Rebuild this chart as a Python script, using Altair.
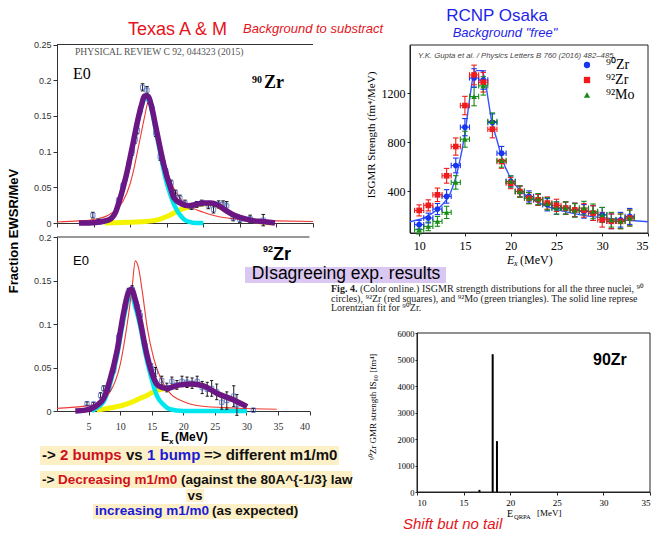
import altair as alt
import pandas as pd

W, H = 655, 533

# ---------------- Texas A&M, 90Zr ----------------
zr90_fit_x = [3.0, 5.0, 7.0, 8.0, 8.5, 9.0, 9.5, 10.0, 10.5, 11.0, 11.5, 12.0, 12.5, 13.0, 13.5, 14.0, 14.5, 15.0, 15.5, 16.0, 17.0, 18.0, 19.0, 20.0, 21.0, 22.0, 23.0, 24.0, 25.0, 26.0, 27.0, 28.0, 29.0, 29.8]
zr90_fit_y = [0.0, 0.0005, 0.004, 0.015, 0.03, 0.048, 0.068, 0.092, 0.117, 0.142, 0.163, 0.178, 0.177, 0.16, 0.135, 0.11, 0.086, 0.066, 0.05, 0.035, 0.027, 0.024, 0.026, 0.028, 0.028, 0.025, 0.018, 0.012, 0.008, 0.005, 0.003, 0.002, 0.001, 0.0]
zr90_c1_x = [4.0, 6.0, 7.0, 8.0, 8.5, 9.0, 9.5, 10.0, 10.5, 11.0, 11.5, 12.0, 12.5, 13.0, 13.5, 14.0, 14.5, 15.0, 15.5, 16.0, 16.5, 17.0, 17.5, 18.0, 19.0, 20.0]
zr90_c1_y = [0.0, 0.001, 0.004, 0.015, 0.03, 0.048, 0.068, 0.091, 0.116, 0.141, 0.161, 0.175, 0.173, 0.156, 0.13, 0.104, 0.078, 0.056, 0.04, 0.026, 0.016, 0.009, 0.004, 0.002, 0.0, 0.0]
zr90_c2_x = [6.5, 8.0, 10.0, 12.0, 13.0, 14.0, 15.0, 16.0, 17.0, 18.0, 19.0, 20.0, 21.0, 22.0, 23.0, 24.0, 25.0, 26.0, 27.0, 28.0, 29.5]
zr90_c2_y = [0.0, 0.0005, 0.001, 0.002, 0.003, 0.005, 0.009, 0.014, 0.019, 0.022, 0.025, 0.027, 0.027, 0.024, 0.018, 0.012, 0.008, 0.005, 0.003, 0.0015, 0.0]
zr90_red_x = [0, 3, 5, 7, 8, 9, 10, 10.5, 11, 11.5, 12, 12.5, 13, 13.5, 14, 14.5, 15, 16, 17, 18, 20, 22, 24, 27, 30, 35]
zr90_red_y = [0.0015, 0.003, 0.005, 0.011, 0.018, 0.03, 0.055, 0.075, 0.1, 0.125, 0.15, 0.17, 0.166, 0.142, 0.117, 0.095, 0.075, 0.048, 0.032, 0.024, 0.015, 0.009, 0.006, 0.004, 0.003, 0.002]
zr90_pt_x = [4.9, 5.7, 8.4, 9.0, 9.8, 10.3, 10.7, 11.0, 11.4, 11.7, 12.3, 12.6, 13.0, 13.5, 14.1, 14.5, 14.9, 15.6, 16.2, 16.8, 17.5, 18.4, 19.1, 19.8, 20.7, 21.4, 22.1, 22.7, 23.2, 24.1, 25.0, 26.4, 28.2]
zr90_pt_y = [0.011, 0.003, 0.031, 0.052, 0.082, 0.1, 0.117, 0.13, 0.158, 0.19, 0.186, 0.172, 0.161, 0.126, 0.093, 0.085, 0.072, 0.056, 0.042, 0.035, 0.028, 0.023, 0.026, 0.028, 0.025, 0.019, 0.026, 0.026, 0.024, 0.007, 0.005, 0.006, 0.004]
zr90_pt_e = [0.004, 0.002, 0.004, 0.004, 0.005, 0.005, 0.005, 0.005, 0.005, 0.005, 0.005, 0.005, 0.005, 0.005, 0.005, 0.004, 0.004, 0.004, 0.004, 0.004, 0.004, 0.004, 0.004, 0.004, 0.005, 0.005, 0.005, 0.005, 0.006, 0.004, 0.004, 0.005, 0.008]

# ---------------- Texas A&M, 92Zr ----------------
zr92_fit_x = [2.9, 4.5, 5.8, 6.6, 7.4, 8.4, 9.5, 10.5, 11.3, 11.8, 12.4, 13.2, 14.0, 14.8, 15.8, 16.6, 17.4, 18.5, 19.5, 21.4, 23.2, 25.3, 28.0, 30.1]
zr92_fit_y = [0.0, 0.001, 0.004, 0.008, 0.0147, 0.036, 0.0686, 0.111, 0.136, 0.14, 0.128, 0.103, 0.0725, 0.049, 0.031, 0.027, 0.026, 0.028, 0.03, 0.031, 0.029, 0.0205, 0.0127, 0.005]
zr92_c1_x = [5.5, 6.6, 7.4, 8.4, 9.5, 10.5, 11.3, 11.8, 12.4, 13.2, 14.0, 14.8, 15.8, 16.9, 17.9, 20.0, 25.0, 30.1]
zr92_c1_y = [0.0, 0.005, 0.011, 0.031, 0.063, 0.104, 0.129, 0.133, 0.12, 0.097, 0.066, 0.042, 0.018, 0.007, 0.002, 0.0, 0.0, 0.0]
zr92_c2_x = [6.3, 8.0, 9.5, 11.0, 12.1, 13.0, 14.3, 15.3, 16.4, 17.4, 18.5, 19.5, 21.4, 23.2, 25.3, 28.0, 30.1]
zr92_c2_y = [0.001, 0.003, 0.005, 0.008, 0.011, 0.014, 0.018, 0.022, 0.025, 0.026, 0.028, 0.03, 0.031, 0.029, 0.0205, 0.0127, 0.005]
zr92_red_x = [0.0, 5.8, 8.4, 10.0, 11.1, 11.9, 12.4, 12.9, 13.5, 14.3, 15.3, 16.4, 17.9, 20.0, 22.7, 28.0, 34.8]
zr92_red_y = [0.003, 0.007, 0.022, 0.053, 0.099, 0.142, 0.1726, 0.165, 0.138, 0.0956, 0.061, 0.038, 0.0205, 0.011, 0.0058, 0.0035, 0.002]
zr92_pt_x = [4.75, 5.8, 6.9, 7.4, 8.2, 9.0, 9.75, 10.3, 10.8, 11.3, 11.9, 12.7, 13.2, 14.0, 15.0, 15.6, 16.6, 17.4, 18.2, 19.0, 19.8, 20.6, 21.4, 22.2, 23.0, 23.8, 24.5, 25.3, 26.1, 26.9, 28.0, 28.5, 31.1]
zr92_pt_y = [0.0085, 0.008, 0.018, 0.026, 0.026, 0.048, 0.085, 0.1, 0.12, 0.137, 0.14, 0.12, 0.11, 0.075, 0.049, 0.045, 0.035, 0.027, 0.034, 0.03, 0.034, 0.033, 0.032, 0.034, 0.027, 0.025, 0.026, 0.022, 0.01, 0.012, 0.017, 0.007, 0.001]
zr92_pt_e = [0.002, 0.002, 0.003, 0.003, 0.003, 0.004, 0.004, 0.004, 0.004, 0.004, 0.004, 0.005, 0.005, 0.005, 0.005, 0.005, 0.005, 0.005, 0.005, 0.005, 0.006, 0.006, 0.006, 0.006, 0.007, 0.008, 0.009, 0.009, 0.008, 0.01, 0.012, 0.012, 0.002]

# ---------------- RCNP Osaka ----------------
rc_series = ["⁹⁰Zr", "⁹²Zr", "⁹²Mo"]
rc_errkeys = ["e90", "e92", "emo"]
rc_x = [10, 11, 12, 13, 14, 15, 16, 17, 18, 19, 20, 21, 22, 23, 24, 25, 26, 27, 28, 29, 30, 31, 32, 33]
rc_zr90 = [130, 184, 257, 360, 612, 924, 1325, 1308, 962, 712, 482, 400, 360, 333, 292, 265, 265, 250, 238, 224, 210, 157, 170, 197]
rc_zr92 = [246, 287, 373, 528, 766, 1100, 1349, 1290, 907, 644, 468, 400, 346, 333, 306, 287, 265, 250, 246, 224, 170, 157, 157, 184]
rc_mo92 = [89, 116, 157, 230, 474, 826, 1173, 1260, 970, 653, 482, 400, 346, 338, 300, 265, 265, 246, 265, 238, 210, 170, 157, 184]
rc_err90 = [35, 40, 45, 55, 60, 70, 75, 75, 70, 55, 45, 45, 45, 45, 50, 50, 50, 55, 55, 60, 60, 60, 60, 65]
rc_err92 = [45, 45, 55, 60, 70, 75, 80, 80, 70, 55, 45, 45, 45, 45, 50, 50, 50, 55, 55, 60, 60, 60, 60, 65]
rc_errmo = [35, 35, 40, 50, 55, 65, 75, 75, 70, 55, 45, 45, 45, 45, 50, 50, 50, 55, 55, 60, 60, 60, 60, 65]
lor_x = [9.0, 10.8, 12.3, 13.4, 14.3, 15.0, 15.55, 15.9, 16.3, 16.8, 17.1, 17.55, 17.9, 18.5, 19.0, 20.1, 21.2, 23.2, 26.8, 30.5, 35.0]
lor_y = [154, 195, 276, 385, 602, 874, 1172, 1337, 1384, 1384, 1337, 1145, 983, 819, 683, 494, 398, 304, 222, 182, 154]

# ---------------- QRPA ----------------
qrpa_e = [16.7, 18.12, 18.58]
qrpa_s = [80, 5200, 1920]

# ---------------- styles ----------------
PURPLE, CYAN, YELLOW, THINRED = "#6b1685", "#00e6ef", "#f4f400", "#ee3b33"
SQ = "#3a5ccc"
TRED, TBLUE = "#e5141b", "#1f1fe8"
SANS, SERIF = "Liberation Sans", "Liberation Serif"

one = pd.DataFrame({"k": [0]})


def txt(s, x, y, size=12, color="black", font=SANS, weight="normal", style="normal",
        align="left", angle=0, baseline="alphabetic"):
    return alt.Chart(one).mark_text(text=s, fontSize=size, color=color, font=font, fontWeight=weight,
                                    fontStyle=style, align=align, angle=angle, baseline=baseline
                                    ).encode(x=alt.value(x), y=alt.value(y))


def box(x1, y1, x2, y2, color):
    return alt.Chart(one).mark_rect(color=color).encode(
        x=alt.value(x1), x2=alt.value(x2), y=alt.value(y1), y2=alt.value(y2))


def XE(f, sc, ax):
    return alt.X(f, type="quantitative", scale=sc, axis=ax, title=None)


def YE(f, sc, ax):
    return alt.Y(f, type="quantitative", scale=sc, axis=ax, title=None)


def left_panel(fx, fy, c1x, c1y, c2x, c2y, rx, ry, px, py, pe, xs, ys, axx, axy, xmax, ymax):
    lines = []
    for xs_, ys_, col, sw in [(c2x, c2y, YELLOW, 5), (c1x, c1y, CYAN, 4.5), (rx, ry, THINRED, 1.1), (fx, fy, PURPLE, 5.5)]:
        lines.append(alt.Chart(pd.DataFrame({"x": xs_, "y": ys_})).mark_line(
            color=col, strokeWidth=sw, interpolate="monotone").encode(
            x=XE("x", xs, axx), y=YE("y", ys, axy)))
    err = pd.DataFrame({"x": px, "lo": [a - b for a, b in zip(py, pe)], "hi": [a + b for a, b in zip(py, pe)]})
    caps = pd.DataFrame({"x1": [a - 0.25 for a in px] * 2, "x2": [a + 0.25 for a in px] * 2,
                         "y": list(err["lo"]) + list(err["hi"])})
    ebar = alt.Chart(err).mark_rule(color="black", strokeWidth=0.9).encode(
        x=XE("x", xs, axx), y=YE("lo", ys, axy), y2="hi")
    ecap = alt.Chart(caps).mark_rule(color="black", strokeWidth=0.9).encode(
        x=XE("x1", xs, axx), x2="x2", y=YE("y", ys, axy))
    pts = alt.Chart(pd.DataFrame({"x": px, "y": py})).mark_point(
        shape="square", filled=False, size=18, strokeWidth=1, color=SQ).encode(
        x=XE("x", xs, axx), y=YE("y", ys, axy))
    top = alt.Chart(pd.DataFrame({"x1": [0], "x2": [xmax], "y": [ymax]})).mark_rule(
        color="#333", strokeWidth=1).encode(x=XE("x1", xs, axx), x2="x2", y=YE("y", ys, axy))
    return alt.layer(top, *lines[:3], ebar, ecap, pts, lines[3])


# ---- panel A: 90Zr (Texas) ----
xA = alt.Scale(domain=[0, 35], range=[57, 313], nice=False, zero=False)
yA = alt.Scale(domain=[0, 0.25], range=[223, 44.5], nice=False)
axA_x = alt.Axis(orient="bottom", offset=223 - H, values=[0, 5, 10, 15, 20, 25, 30, 35], labels=False,
                 tickSize=4, grid=False, domainColor="#333", tickColor="#333")
axA_y = alt.Axis(orient="left", offset=-57, values=[0, 0.05, 0.1, 0.15, 0.2, 0.25], format="~g", grid=False,
                 tickSize=4, labelPadding=2, labelFont=SANS, labelFontSize=9, labelColor="#333",
                 domainColor="#333", tickColor="#333")
panelA = left_panel(zr90_fit_x, zr90_fit_y, zr90_c1_x, zr90_c1_y, zr90_c2_x, zr90_c2_y, zr90_red_x, zr90_red_y,
                    zr90_pt_x, zr90_pt_y, zr90_pt_e, xA, yA, axA_x, axA_y, 35, 0.25)

# ---- panel B: 92Zr (Texas) ----
xB = alt.Scale(domain=[0, 40], range=[57, 309.5], nice=False, zero=False)
yB = alt.Scale(domain=[0, 0.2], range=[411, 237], nice=False)
axB_x = alt.Axis(orient="bottom", offset=411 - H, values=[5, 10, 15, 20, 25, 30, 35, 40], grid=False,
                 tickSize=4, labelPadding=6, labelFont=SERIF, labelFontSize=10, labelColor="#333",
                 domainColor="#333", tickColor="#333")
axB_y = alt.Axis(orient="left", offset=-57, values=[0, 0.05, 0.1, 0.15, 0.2], format="~g", grid=False,
                 tickSize=4, labelPadding=2, labelFont=SANS, labelFontSize=9, labelColor="#333",
                 domainColor="#333", tickColor="#333")
panelB = left_panel(zr92_fit_x, zr92_fit_y, zr92_c1_x, zr92_c1_y, zr92_c2_x, zr92_c2_y, zr92_red_x, zr92_red_y,
                    zr92_pt_x, zr92_pt_y, zr92_pt_e, xB, yB, axB_x, axB_y, 40, 0.2)

# ---- panel C: RCNP ----
xC = alt.Scale(domain=[9, 35], range=[410, 648], nice=False, zero=False)
yC = alt.Scale(domain=[62, 1593], range=[233, 45], nice=False, zero=False)
axC_x = alt.Axis(orient="bottom", offset=233 - H, values=[10, 15, 20, 25, 30, 35], grid=False, tickSize=3,
                 labelPadding=4, labelFont=SERIF, labelFontSize=12, labelColor="black",
                 domainColor="#222", tickColor="#222")
axC_y = alt.Axis(orient="left", offset=-410, values=[400, 800, 1200], format="d", grid=False, tickSize=3,
                 labelPadding=2, labelFont=SERIF, labelFontSize=12, labelColor="black",
                 domainColor="#222", tickColor="#222")
rc_cols = ["#1836f0", "#ee1c1c", "#168c16"]
rc_rows = []
for name, key, vals, errs in [(rc_series[0], rc_errkeys[0], rc_zr90, rc_err90),
                              (rc_series[1], rc_errkeys[1], rc_zr92, rc_err92),
                              (rc_series[2], rc_errkeys[2], rc_mo92, rc_errmo)]:
    for xv, yv, ev in zip(rc_x, vals, errs):
        rc_rows.append({"x": xv, "y": yv, "s": name, "k": key, "lo": yv - ev, "hi": yv + ev,
                        "xl": xv - 0.5, "xh": xv + 0.5, "cl": xv - 0.3, "ch": xv + 0.3,
                        "yl": yv - 22, "yh": yv + 22})
rc_df = pd.DataFrame(rc_rows)
strokeC = alt.Stroke("k:N", scale=alt.Scale(domain=rc_errkeys, range=rc_cols), legend=None)
legC = alt.Legend(orient="none", legendX=580, legendY=58, title=None, labelFont=SERIF, labelFontSize=14,
                  symbolSize=40, rowPadding=1, labelOffset=12, padding=0)
frameC = alt.Chart(pd.DataFrame({"x1": [9], "x2": [35], "y1": [62], "y2": [1593]})).mark_rect(
    fillOpacity=0, stroke="#222", strokeWidth=1).encode(
    x=XE("x1", xC, axC_x), x2="x2", y=YE("y1", yC, axC_y), y2="y2")
lineC = alt.Chart(pd.DataFrame({"x": lor_x, "y": lor_y})).mark_line(
    color="#3355ff", strokeWidth=1.4, interpolate="monotone").encode(x=XE("x", xC, axC_x), y=YE("y", yC, axC_y))
evC = alt.Chart(rc_df).mark_rule(strokeWidth=1.1).encode(
    x=XE("x", xC, axC_x), y=YE("lo", yC, axC_y), y2="hi", stroke=strokeC)
ehC = alt.Chart(rc_df).mark_rule(strokeWidth=1.1).encode(
    x=XE("xl", xC, axC_x), x2="xh", y=YE("y", yC, axC_y), stroke=strokeC)
cap1 = alt.Chart(rc_df).mark_rule(strokeWidth=1.1).encode(
    x=XE("cl", xC, axC_x), x2="ch", y=YE("hi", yC, axC_y), stroke=strokeC)
cap2 = alt.Chart(rc_df).mark_rule(strokeWidth=1.1).encode(
    x=XE("cl", xC, axC_x), x2="ch", y=YE("lo", yC, axC_y), stroke=strokeC)
cap3 = alt.Chart(rc_df).mark_rule(strokeWidth=1.1).encode(
    x=XE("xl", xC, axC_x), y=YE("yl", yC, axC_y), y2="yh", stroke=strokeC)
cap4 = alt.Chart(rc_df).mark_rule(strokeWidth=1.1).encode(
    x=XE("xh", xC, axC_x), y=YE("yl", yC, axC_y), y2="yh", stroke=strokeC)
ptsC = alt.Chart(rc_df).mark_point(filled=True, size=32, opacity=1).encode(
    x=XE("x", xC, axC_x), y=YE("y", yC, axC_y),
    color=alt.Color("s:N", scale=alt.Scale(domain=rc_series, range=rc_cols), legend=legC),
    shape=alt.Shape("s:N", scale=alt.Scale(domain=rc_series, range=["circle", "square", "triangle-up"]),
                    legend=legC))
panelC = alt.layer(frameC, lineC, evC, ehC, cap1, cap2, cap3, cap4, ptsC)

# ---- panel D: QRPA ----
xD = alt.Scale(domain=[10, 35], range=[417, 650], nice=False, zero=False)
yD = alt.Scale(domain=[0, 6000], range=[492, 333], nice=False)
axD_x = alt.Axis(orient="bottom", offset=492 - H, values=[10, 15, 20, 25, 30, 35], grid=False, tickSize=3,
                 labelPadding=3, labelFont=SERIF, labelFontSize=9, labelColor="black",
                 domainColor="#222", tickColor="#222")
axD_y = alt.Axis(orient="left", offset=-417, values=[0, 1000, 2000, 3000, 4000, 5000, 6000], format="d",
                 grid=False, tickSize=2, labelPadding=1, labelFont=SERIF, labelFontSize=8.5, labelColor="black",
                 domainColor="#222", tickColor="#222")
frameD = alt.Chart(pd.DataFrame({"x1": [10], "x2": [35], "y1": [0], "y2": [6000]})).mark_rect(
    fillOpacity=0, stroke="#222", strokeWidth=1).encode(
    x=XE("x1", xD, axD_x), x2="x2", y=YE("y1", yD, axD_y), y2="y2")
barsD = alt.Chart(pd.DataFrame({"e": qrpa_e, "s": qrpa_s, "z": [0, 0, 0]})).mark_rule(
    color="black", strokeWidth=2).encode(x=XE("e", xD, axD_x), y=YE("z", yD, axD_y), y2="s")
panelD = alt.layer(frameD, barsD)

# ---- texts ----
texts = [
    txt("Texas A & M", 128, 35, 18, TRED),
    txt("Background to substract", 243, 33, 13, TRED, style="italic"),
    txt("RCNP Osaka", 497, 21, 17, TBLUE, align="center"),
    txt("Background \"free\"", 505, 37, 13, TBLUE, style="italic", align="center"),
    txt("PHYSICAL REVIEW C 92, 044323 (2015)", 75, 55, 9.6, "#555", font=SERIF),
    txt("E0", 73, 79, 16, "black", font=SERIF),
    txt("90", 252, 83, 10, "black", font=SERIF, weight="bold"),
    txt("Zr", 264, 88, 18, "black", font=SERIF, weight="bold"),
    txt("E0", 73, 265, 13, "black"),
    txt("Fraction EWSR/MeV", 14, 231, 13, "black", weight="bold", align="center", angle=270, baseline="middle"),
    txt("E", 161, 441, 12, "black", weight="bold"),
    txt("x", 169, 444, 8, "black", weight="bold"),
    txt("(MeV)", 175, 441, 12, "black", weight="bold"),
    txt("Y.K. Gupta et al. / Physics Letters B 760 (2016) 482–485", 418, 58, 7.8, "#444", style="italic"),
    txt("ISGMR Strength (fm⁴/MeV)", 372, 135, 11, "black", font=SERIF, align="center", angle=270,
        baseline="middle"),
    txt("E", 507, 264, 12, "black", font=SERIF, style="italic"),
    txt("x", 514, 266, 8, "black", font=SERIF, style="italic"),
    txt("(MeV)", 520, 264, 12, "black", font=SERIF),
    txt("Fig. 4.", 331, 292, 10, "#222", font=SERIF, weight="bold"),
    txt("(Color online.) ISGMR strength distributions for all the three nuclei, ⁹⁰", 360, 292, 10,
        "#222", font=SERIF),
    txt("circles), ⁹²Zr (red squares), and ⁹²Mo (green triangles). The solid line represe", 331, 301.5,
        10, "#222", font=SERIF),
    txt("Lorentzian fit for ⁹⁰Zr.", 331, 311, 10, "#222", font=SERIF),
    box(245, 267, 446, 283, "#dac8f2"),
    txt("DIsagreeing exp. results", 346, 279, 17.5, "black", align="center"),
    txt("92", 263, 252, 9, "black", weight="bold"),
    txt("Zr", 273, 260, 18, "black", weight="bold"),
    txt("90Zr", 593, 365, 16, "black", weight="bold"),
    txt("⁹⁰Zr GMR strength IS₀₀ [fm⁴]", 373, 407, 9, "black", font=SERIF, align="center", angle=270,
        baseline="middle"),
    txt("E", 507, 517, 10, "black", font=SERIF),
    txt("QRPA", 514, 519, 6.5, "black", font=SERIF),
    txt("[MeV]", 537, 516, 9, "black", font=SERIF),
    box(40, 446, 339, 465, "#fdf0c6"),
    txt("->", 42, 460, 15, "#111", weight="bold"),
    txt("2 bumps", 60, 460, 15, "#d0101c", weight="bold"),
    txt("vs", 126, 460, 15, "#111", weight="bold"),
    txt("1 bump", 147, 460, 15, "#1a1ad8", weight="bold"),
    txt("=> different m1/m0", 204, 460, 15, "#111", weight="bold"),
    box(40, 471, 352, 488, "#fdf0c6"),
    txt("->", 42, 484, 13.5, "#111", weight="bold"),
    txt("Decreasing m1/m0", 58, 484, 13.5, "#d0101c", weight="bold"),
    txt("(against the 80A^{-1/3} law", 181, 484, 13.5, "#111", weight="bold"),
    box(186, 489, 204, 502, "#fdf0c6"),
    txt("vs", 195, 500, 13.5, "#111", weight="bold", align="center"),
    box(93, 504, 298, 519, "#fdf0c6"),
    txt("increasing m1/m0", 95, 515, 13.5, "#1a1ad8", weight="bold"),
    txt("(as expected)", 212, 515, 13.5, "#111", weight="bold"),
    txt("Shift but no tail", 403, 529, 15, TRED, style="italic"),
]

chart = alt.layer(panelA, panelB, panelC, panelD, *texts).resolve_scale(
    x="independent", y="independent"
).properties(
    width=W, height=H, padding=0, autosize=alt.AutoSizeParams(type="none"), background="white"
).configure_view(strokeWidth=0)

chart.save("out.html", embed_options={"renderer": "svg", "actions": False})
